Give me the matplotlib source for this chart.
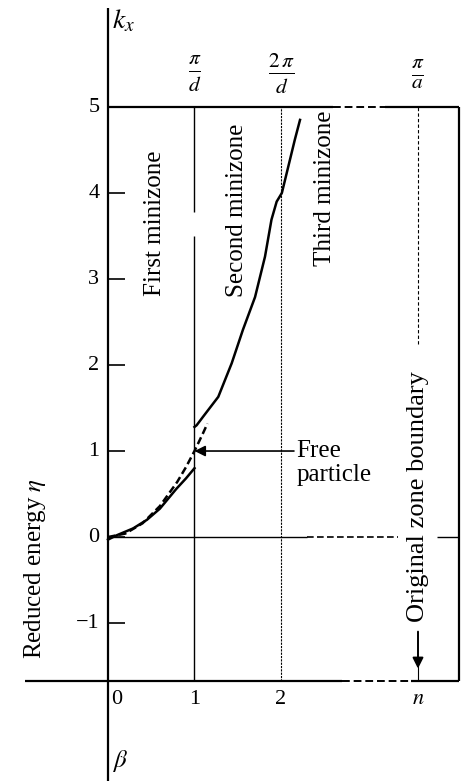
import matplotlib
matplotlib.use("Agg")
import matplotlib.pyplot as plt

plt.rcParams['font.family'] = ['Liberation Serif', 'DejaVu Serif']
plt.rcParams['mathtext.fontset'] = 'stix'

# band curves (beta, eta)
beta_low = [0.0, 0.1, 0.29, 0.45, 0.6, 0.79, 0.9, 0.95, 1.0]
eta_low = [-0.03, 0.02, 0.1, 0.2, 0.33, 0.56, 0.68, 0.74, 0.8]
beta_up = [1.0, 1.025, 1.1, 1.275, 1.43, 1.56, 1.70, 1.815, 1.89, 1.95, 2.01, 2.085, 2.16, 2.22]
eta_up = [1.28, 1.30, 1.40, 1.63, 2.02, 2.41, 2.79, 3.26, 3.69, 3.90, 4.0, 4.31, 4.62, 4.85]
beta_free = [0.0, 0.2, 0.4, 0.6, 0.8, 0.9, 1.0, 1.1, 1.15]
eta_free = [0.0, 0.04, 0.16, 0.36, 0.64, 0.81, 1.0, 1.21, 1.32]

yticks = [5, 4, 3, 2, 1, 0, -1]
xtick_pos = [0, 1, 2, 3.584]
xtick_lab = ['0', '1', '2', '$n$']
top_pos = [1, 2, 3.584]
top_lab = [r'$\frac{\pi}{d}$', r'$\frac{2\,\pi}{d}$', r'$\frac{\pi}{a}$']

xmax, ymin, ymax = 4.058, -1.674, 5.0

fig = plt.figure(figsize=(4.66, 7.81), dpi=100)
ax = fig.add_axes([108/466, 100/781, 351/466, 574/781])
ax.set_xlim(0, xmax)
ax.set_ylim(ymin, ymax)
ax.axis('off')

k = dict(color='black', clip_on=False, solid_capstyle='butt')
# left axis running past the frame
ax.plot([0, 0], [-2.84, 6.15], lw=1.6, **k)
# top edge
ax.plot([0, 2.6], [ymax, ymax], lw=1.6, **k)
ax.plot([2.6, 3.2], [ymax, ymax], lw=1.4, ls=(0, (4, 2)), **k)
ax.plot([3.2, xmax], [ymax, ymax], lw=1.6, **k)
# bottom edge
ax.plot([-0.96, 2.7], [ymin, ymin], lw=1.6, **k)
ax.plot([2.7, 3.5], [ymin, ymin], lw=1.4, ls=(0, (4, 2)), **k)
ax.plot([3.5, xmax], [ymin, ymin], lw=1.6, **k)
# right edge
ax.plot([xmax, xmax], [ymin, ymax], lw=1.6, **k)
# zero line
ax.plot([0, 2.3], [0, 0], lw=1.0, **k)
ax.plot([2.3, 3.35], [0, 0], lw=1.2, ls=(0, (4, 2)), **k)
ax.plot([3.8, xmax], [0, 0], lw=1.0, **k)
# minizone boundaries
ax.plot([1, 1], [ymin, 3.5], lw=1.0, **k)
ax.plot([1, 1], [3.78, ymax], lw=1.0, **k)
ax.plot([2, 2], [ymin, ymax], lw=0.8, ls=(0, (2, 1)), **k)
ax.plot([3.584, 3.584], [2.25, ymax], lw=0.8, ls=(0, (3, 2)), **k)
ax.plot([3.584, 3.584], [ymin, -1.5], lw=0.8, **k)

# y ticks
for t in yticks:
    ax.plot([0, 0.2], [t, t], lw=1.2, **k)
    ax.text(-0.1, t, str(t).replace('-', '\u2212'), ha='right', va='center', fontsize=16)
for p, s in zip(xtick_pos, xtick_lab):
    ax.text(p if p > 0 else 0.1, ymin - 0.1, s, ha='center', va='top', fontsize=16)
for p, s in zip(top_pos, top_lab):
    ax.text(p, 5.38, s, ha='center', va='center', fontsize=22)

# curves
ax.plot(beta_free, eta_free, lw=1.8, ls=(0, (3, 1.5)), color='black', clip_on=False)
ax.plot(beta_low, eta_low, lw=1.8, color='black', clip_on=False)
ax.plot(beta_up, eta_up, lw=1.8, color='black', clip_on=False)

# labels
ax.text(0.05, 6.15, '$k_x$', ha='left', va='top', fontsize=20)
ax.text(0.05, -2.6, r'$\beta$', ha='left', va='center', fontsize=18)
ax.text(0.54, 3.65, 'First minizone', rotation=90, ha='center', va='center', fontsize=18)
ax.text(1.49, 3.8, 'Second minizone', rotation=90, ha='center', va='center', fontsize=18)
ax.text(2.51, 4.06, 'Third minizone', rotation=90, ha='center', va='center', fontsize=18)
ax.text(-0.84, -0.36, r'Reduced energy $\eta$', rotation=90, ha='center', va='center', fontsize=18)
ax.text(3.584, 0.47, 'Original zone boundary', rotation=90, ha='center', va='center', fontsize=19,
        bbox=dict(facecolor='white', edgecolor='none', pad=1))
ax.annotate('', xy=(3.584, -1.53), xytext=(3.584, -1.1),
            arrowprops=dict(arrowstyle='-|>', color='black', lw=1.4, mutation_scale=16,
                            shrinkA=0, shrinkB=0))
ax.annotate('', xy=(1.0, 1.0), xytext=(2.15, 1.0),
            arrowprops=dict(arrowstyle='-|>', color='black', lw=1.2, mutation_scale=16,
                            shrinkA=0, shrinkB=0))
ax.text(2.18, 1.0, 'Free', ha='left', va='center', fontsize=18)
ax.text(2.18, 0.72, 'particle', ha='left', va='center', fontsize=18)

fig.savefig('out.png', dpi=100)
